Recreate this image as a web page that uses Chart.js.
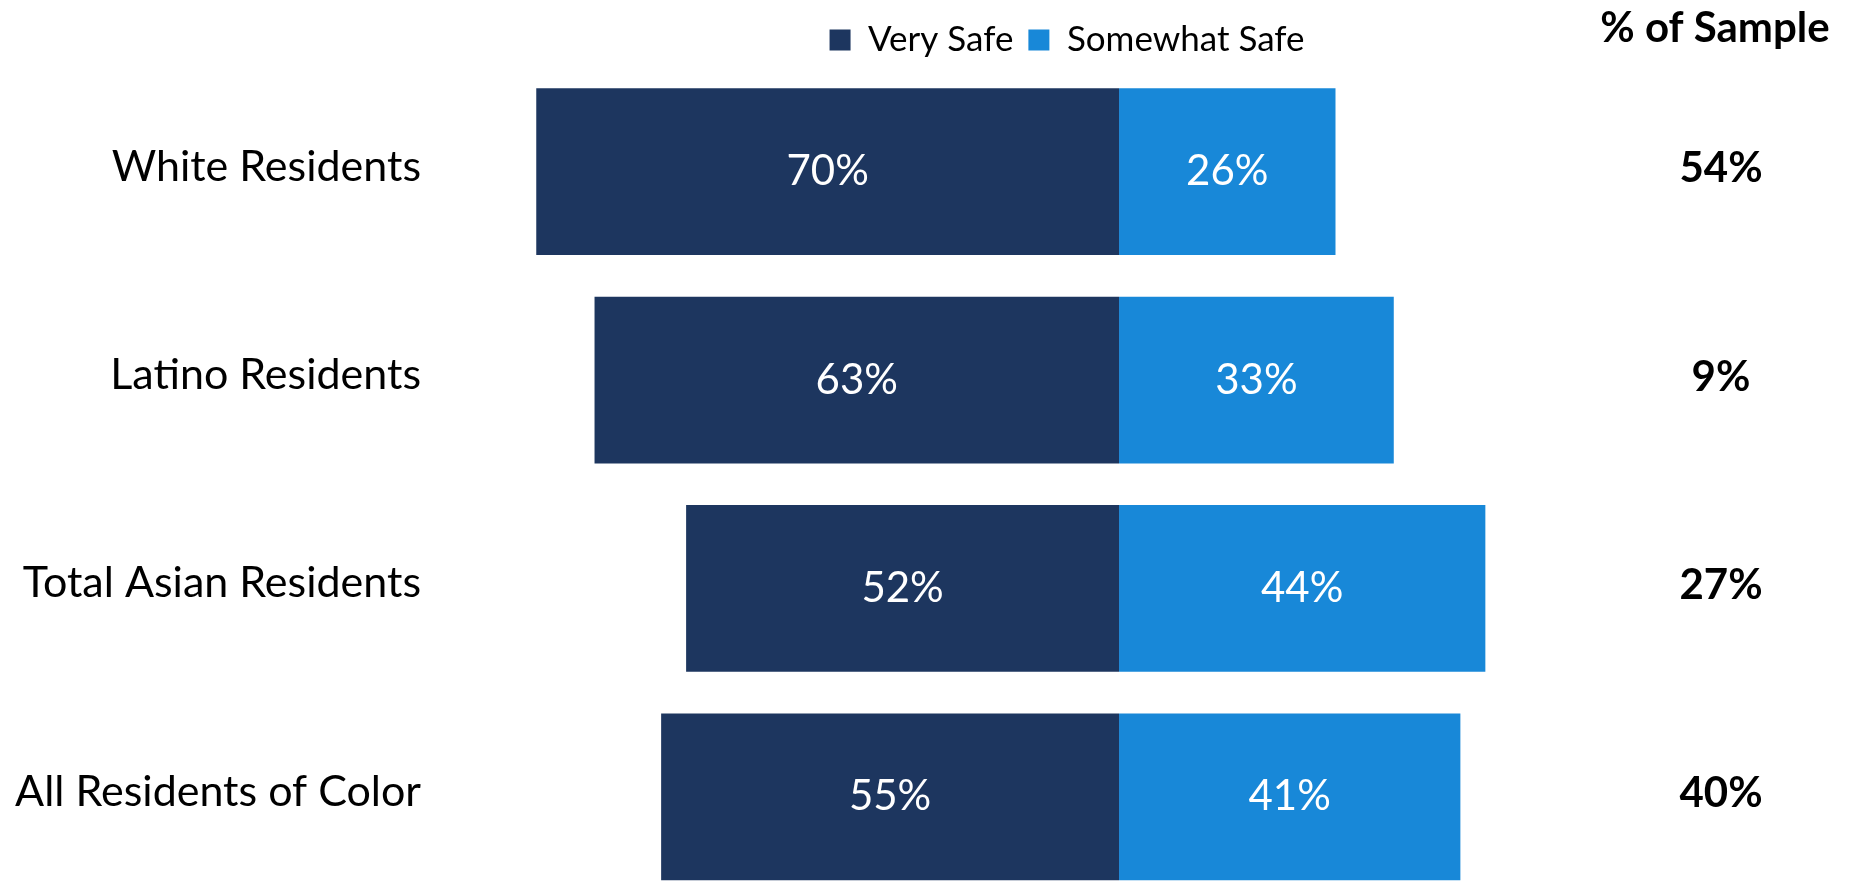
<!DOCTYPE html>
<html>
<head>
<meta charset="utf-8">
<title>Feeling Safe by Group</title>
<script src="https://cdn.jsdelivr.net/npm/chart.js@4.4.1/dist/chart.umd.min.js"></script>
<style>
  html, body { margin: 0; padding: 0; background: #fff; overflow: hidden; }
  #wrap { width: 1850px; height: 910px; }
</style>
</head>
<body>
<div id="wrap"><canvas id="safetyChart" width="1850" height="910"></canvas></div>
<script>
const groups = ["White Residents", "Latino Residents", "Total Asian Residents", "All Residents of Color"];
const verySafe = [70, 63, 52, 55];
const somewhatSafe = [26, 33, 44, 41];
const sampleShare = [54, 9, 27, 40];
const seriesNames = ["Very Safe", "Somewhat Safe"];
const seriesColors = ["#1d365f", "#1888d8"];

const FONT = "Lato, 'Noto Sans', sans-serif";

// value labels inside the bars, plus the "% of Sample" column on the right
const labelPlugin = {
  id: "labelPlugin",
  afterDatasetsDraw(chart) {
    const ctx = chart.ctx;
    ctx.save();
    ctx.textAlign = "center";
    ctx.textBaseline = "middle";

    ctx.fillStyle = "#fff";
    ctx.font = `42px ${FONT}`;
    chart.data.datasets.forEach((ds, di) => {
      chart.getDatasetMeta(di).data.forEach((bar, i) => {
        const v = Math.abs(ds.data[i]);
        ctx.fillText(v + "%", (bar.x + bar.base) / 2, bar.y);
      });
    });

    const yScale = chart.scales.y;
    ctx.fillStyle = "#000";
    ctx.font = `bold 42px ${FONT}`;
    sampleShare.forEach((v, i) => {
      ctx.fillText(v + "%", 1721, yScale.getPixelForValue(i) - 3);
    });

    ctx.font = `bold 42px ${FONT}`;
    ctx.fillText("% of Sample", 1715, 28);
    ctx.restore();
  }
};

new Chart(document.getElementById("safetyChart"), {
  type: "bar",
  data: {
    labels: groups,
    datasets: [
      {
        label: seriesNames[0],
        data: verySafe.map(v => -v), // drawn to the left of zero
        backgroundColor: seriesColors[0],
        categoryPercentage: 0.8,
        barPercentage: 1.0
      },
      {
        label: seriesNames[1],
        data: somewhatSafe,
        backgroundColor: seriesColors[1],
        categoryPercentage: 0.8,
        barPercentage: 1.0
      }
    ]
  },
  options: {
    indexAxis: "y",
    responsive: false,
    animation: false,
    layout: {
      autoPadding: false,
      padding: { top: 7.5, right: 169, bottom: 9, left: 0 }
    },
    scales: {
      x: { stacked: true, min: -80, max: 67.5, display: false },
      y: {
        stacked: true,
        grid: { display: false },
        border: { display: false },
        ticks: {
          color: "#000",
          padding: 24,
          labelOffset: -5,
          font: { family: FONT, size: 43 }
        },
        afterFit(scale) {
          // fixed label column, and no extra room above/below for the tick labels
          scale.width = 453;
          scale.paddingTop = 0;
          scale.paddingBottom = 0;
        }
      }
    },
    plugins: {
      legend: {
        fullSize: false,
        labels: {
          color: "#000",
          font: { family: FONT, size: 35 },
          boxWidth: 21,
          boxHeight: 21,
          padding: 15
        }
      },
      tooltip: { enabled: false }
    }
  },
  plugins: [labelPlugin]
});
</script>
</body>
</html>
